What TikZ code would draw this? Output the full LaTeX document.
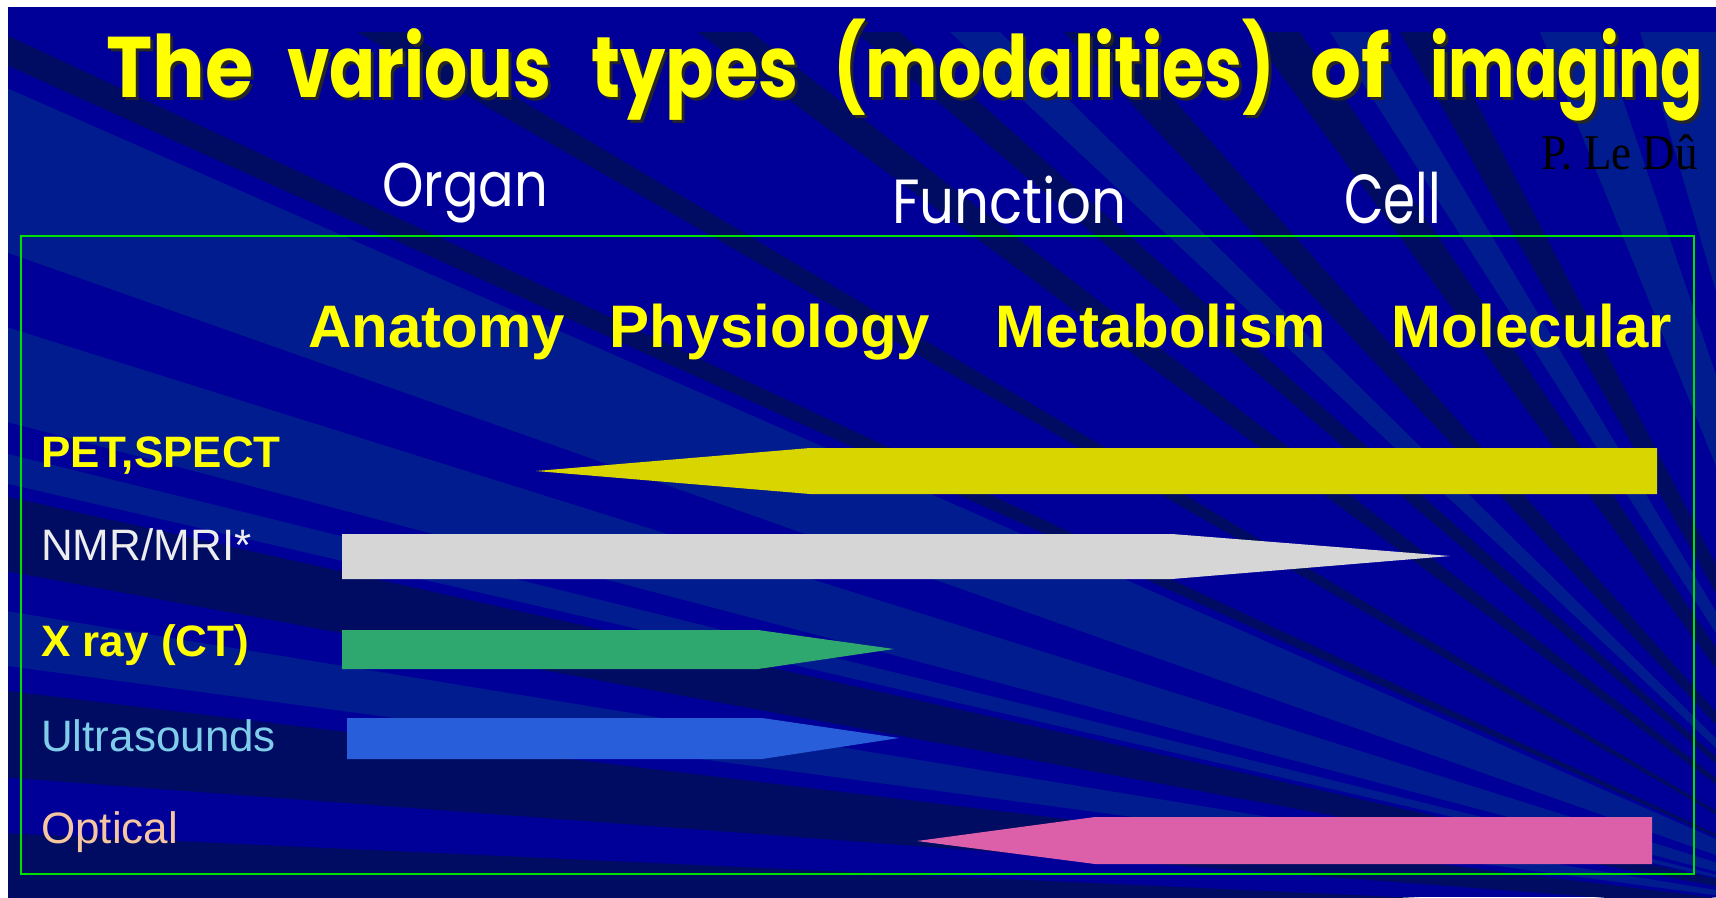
\documentclass[tikz,border=0pt]{standalone}
\usepackage{fontspec}
\setmainfont{Liberation Sans}
\newfontfamily\comic{Poppins}
\newfontfamily\serifLD{Liberation Serif}
\definecolor{bgblue}{HTML}{000099}
\definecolor{darkstripe}{HTML}{000C62}
\definecolor{lightstripe}{HTML}{001C8E}
\definecolor{boxgreen}{HTML}{00E000}
\definecolor{titleyellow}{HTML}{FFFF00}
\definecolor{barY}{HTML}{D9D500}
\definecolor{barW}{HTML}{D6D6D6}
\definecolor{barG}{HTML}{2EA86E}
\definecolor{barB}{HTML}{285ED9}
\definecolor{barP}{HTML}{DC5FAA}
\definecolor{usblue}{HTML}{7FCDEA}
\definecolor{optpeach}{HTML}{F5C6A0}
\newcommand{\tword}[2]{\resizebox{#1pt}{\height}{\comic\bfseries\fontsize{86}{96}\selectfont #2}}
\tikzset{
  headtext/.style={anchor=base, inner sep=0, text=titleyellow, font=\fontsize{60}{70}\selectfont\bfseries},
  rowtext/.style={anchor=base west, inner sep=0, font=\fontsize{44}{52}\selectfont},
  comictext/.style={anchor=north west, inner sep=0, text=white},
  titleword/.style={anchor=base west, inner sep=0, text=titleyellow},
  titleshade/.style={anchor=base west, inner sep=0, text=black!85},
  dstripe/.style={fill=darkstripe},
  lstripe/.style={fill=lightstripe},
}
\begin{document}
\begin{tikzpicture}[x=1pt,y=-1pt]
\useasboundingbox (0,0) rectangle (1716,897);
\fill[white] (0,0) rectangle (1716,897);
\fill[bgblue] (8,7) rectangle (1716,897);
\begin{scope}
  \clip (8,32) rectangle (1716,897);
  \coordinate (V) at (1900,920);
  % wedges to the left edge
  \fill[dstripe] (V) -- (0,32) -- (0,62) -- cycle;
  \fill[lstripe] (V) -- (0,85) -- (0,250) -- cycle;
  \fill[lstripe] (V) -- (0,325) -- (0,420) -- cycle;
  \fill[lstripe] (V) -- (0,452) -- (0,482) -- cycle;
  \fill[dstripe] (V) -- (0,495) -- (0,570) -- cycle;
  \fill[lstripe] (V) -- (0,610) -- (0,665) -- cycle;
  \fill[dstripe] (V) -- (0,690) -- (0,777) -- cycle;
  \fill[dstripe] (V) -- (0,833) -- (0,910) -- cycle;
  % wedges to the top edge
  \fill[dstripe] (V) -- (357,32) -- (406,32) -- cycle;
  \fill[dstripe] (V) -- (697,32) -- (751,32) -- cycle;
  \fill[dstripe] (V) -- (856,32) -- (900,32) -- cycle;
  \fill[lstripe] (V) -- (950,32) -- (1000,32) -- cycle;
  \fill[dstripe] (V) -- (1064,32) -- (1114,32) -- cycle;
  \fill[dstripe] (V) -- (1250,32) -- (1300,32) -- cycle;
  \fill[lstripe] (V) -- (1330,32) -- (1370,32) -- cycle;
  \fill[dstripe] (V) -- (1400,32) -- (1440,32) -- cycle;
  \fill[lstripe] (V) -- (1540,32) -- (1600,32) -- cycle;
  \fill[lstripe] (V) -- (1640,32) -- (1716,32) -- cycle;
\end{scope}

% title words with shadow
\foreach \nm/\xx/\ww/\tx in {w1/106/147/The, w2/287/264/various, w3/591/207/types,
    w4/833/442/(modalities), w5/1310/80/of, w6/1430/273/imaging} {
  \node[titleshade] (\nm s) at (\xx+3,100) {\tword{\ww}{\tx}};
  \node[titleword] (\nm) at (\xx,97) {\tword{\ww}{\tx}};
}

\node[anchor=base east, inner sep=0, text=black] (author) at (1698,169)
  {\scalebox{0.9}[1]{\serifLD\fontsize{50}{56}\selectfont P. Le Dû}};

\node[comictext] (organ) at (382,163) {\resizebox*{166pt}{60pt}{\comic Organ}};
\node[comictext] (function) at (892,176) {\resizebox*{234pt}{48pt}{\comic Function}};
\node[comictext] (cell) at (1344,172) {\resizebox*{97pt}{52pt}{\comic Cell}};

% green frame
\draw[boxgreen, line width=2pt] (21,236) rectangle (1694,874);

% column headers
\node[headtext] (anatomy) at (437,347) {Anatomy};
\node[headtext] (physiology) at (770,347) {Physiology};
\node[headtext] (metabolism) at (1161,347) {Metabolism};
\node[headtext] (molecular) at (1532,347) {Molecular};

% row labels
\node[rowtext, text=titleyellow, font=\fontsize{44}{52}\selectfont\bfseries] (pet) at (41,467) {PET,SPECT};
\node[rowtext, text=white!93!black] (nmr) at (41,560) {NMR/MRI*};
\node[rowtext, text=titleyellow, font=\fontsize{44}{52}\selectfont\bfseries] (xray) at (41,656) {X ray (CT)};
\node[rowtext, text=usblue] (us) at (41,751) {Ultrasounds};
\node[rowtext, text=optpeach] (optical) at (41,843) {Optical};

% bars
\fill[barY] (536,471) -- (810,448) -- (1657,448) -- (1657,494) -- (810,494) -- cycle;
\fill[barW] (342,534) -- (1172,534) -- (1450,556) -- (1172,579) -- (342,579) -- cycle;
\fill[barG] (342,630) -- (758,630) -- (894,649) -- (758,669) -- (342,669) -- cycle;
\fill[barB] (347,718) -- (762,718) -- (899,738) -- (762,759) -- (347,759) -- cycle;
\fill[barP] (917,841) -- (1095,817) -- (1652,817) -- (1652,864) -- (1095,864) -- cycle;
\end{tikzpicture}
\end{document}
